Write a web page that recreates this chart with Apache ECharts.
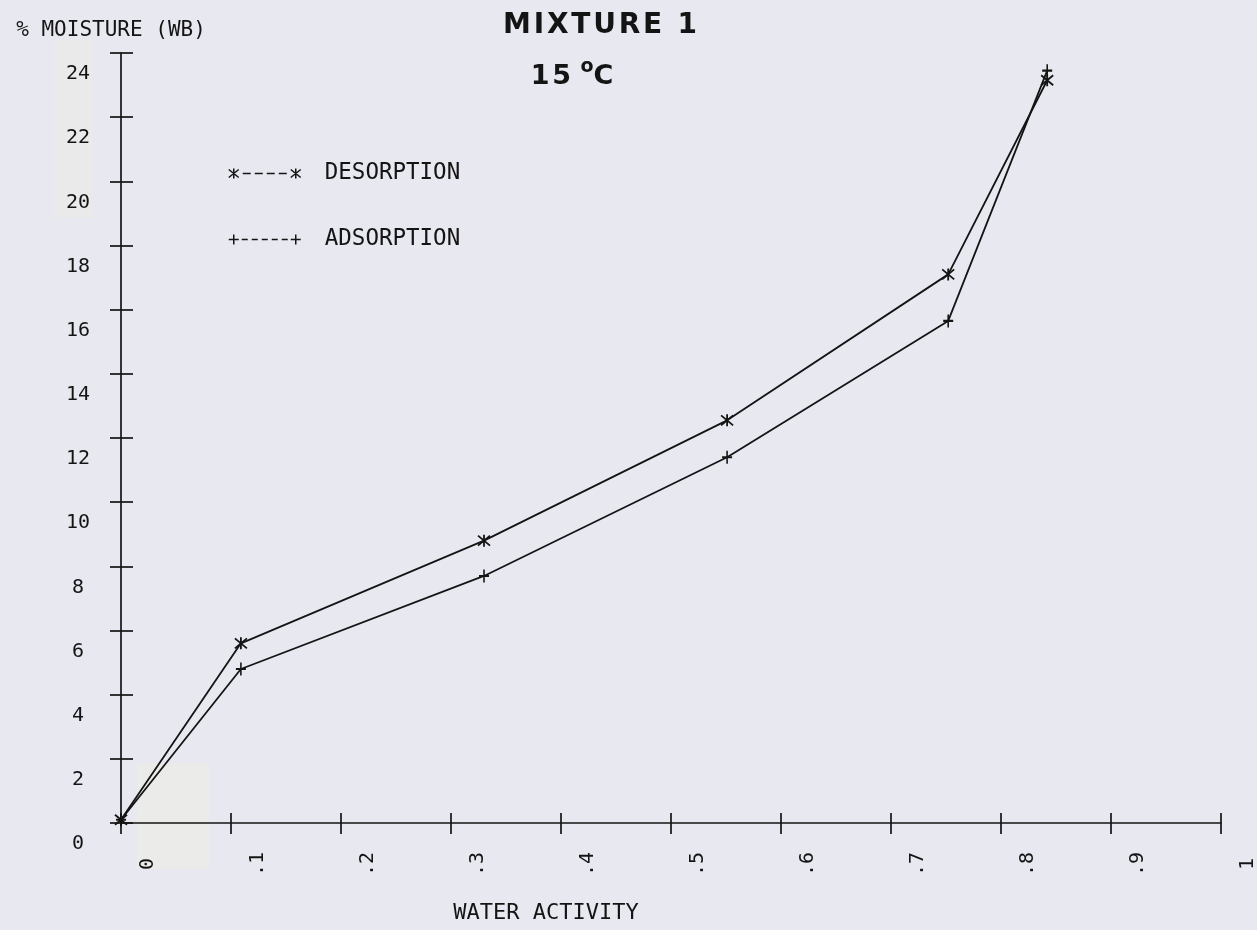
<!DOCTYPE html>
<html>
<head>
<meta charset="utf-8">
<title>MIXTURE 1 – 15 °C sorption isotherms</title>
<script src="https://cdn.jsdelivr.net/npm/echarts@6/dist/echarts.min.js"></script>
<style>
  html, body { margin: 0; padding: 0; background: #e8e8f1; }
  #chart { width: 1257px; height: 930px; }
</style>
</head>
<body>
<div id="chart"></div>
<script>
// Water activity of each measured point
const waterActivity = [0, 0.109, 0.330, 0.551, 0.752, 0.842];
// % moisture (wet basis)
const desorption = [0.1, 5.6, 8.8, 12.55, 17.1, 23.15];
const adsorption = [0.1, 4.8, 7.7, 11.4, 15.65, 23.45];

// Axis ranges and tick steps
const xMin = 0, xMax = 1, xStep = 0.1;
const yMin = 0, yMax = 24, yStep = 2;

const titleText = 'MIXTURE 1';
const tempText = '15';
const yName = '% MOISTURE (WB)';
const xName = 'WATER ACTIVITY';
const seriesNames = ['DESORPTION', 'ADSORPTION'];

const INK = '#141414';
const MONO = '"DejaVu Sans Mono", "Liberation Mono", monospace';
const SANS = '"DejaVu Sans", "Liberation Sans", sans-serif';

// Plotter-style markers, drawn as stroked paths
const starPath = 'path://M0 1 L12 11 M12 1 L0 11 M6 0 L6 12';
const plusPath = 'path://M5 0 L5 13 M0 6.5 L10 6.5';

// Legend keys: marker, dashes, marker
const starKey = 'path://M0 1 L10 9 M10 1 L0 9 M5 0 L5 10 ' +
  'M14 5 L22 5 M26 5 L34 5 M38 5 L46 5 M50 5 L58 5 ' +
  'M62 1 L72 9 M72 1 L62 9 M67 0 L67 10';
const plusKey = 'path://M5 0 L5 10 M0 5 L10 5 ' +
  'M13 5 L19 5 M23 5 L29 5 M33 5 L39 5 M43 5 L49 5 M53 5 L59 5 ' +
  'M67 0 L67 10 M62 5 L72 5';

const pairs = (xs, ys) => xs.map((x, i) => [x, ys[i]]);

// Plotter labels sit a little off their ticks: two blank lines push the text
// below (y axis) or beside (rotated x axis) the tick it belongs to.
const xLabel = v => {
  const n = Math.round(v * 10);
  const s = n === 0 ? '0' : n === 10 ? '1' : '.' + n;
  return '\n\n' + s;
};
const yLabel = v => '\n\n' + v;

// Hair spaces widen the title's letter spacing
const spaced = s => s.split('').join('\u200A');

const chart = echarts.init(document.getElementById('chart'), null, { renderer: 'canvas' });

const axisLineStyle = { color: INK, width: 1.7 };

chart.setOption({
  backgroundColor: '#e8e8f1',
  animation: false,
  title: [
    {
      text: spaced(titleText),
      left: 595,
      top: 5,
      textAlign: 'center',
      textStyle: { fontFamily: SANS, fontWeight: 'bold', fontSize: 28, lineHeight: 32, color: INK }
    },
    {
      text: '{n|' + spaced(tempText) + ' }{s|o}{n|C}',
      left: 567,
      top: 53,
      textAlign: 'center',
      textStyle: {
        rich: {
          n: { fontFamily: SANS, fontWeight: 'bold', fontSize: 27, lineHeight: 32, color: INK, verticalAlign: 'bottom' },
          s: { fontFamily: SANS, fontWeight: 'bold', fontSize: 19, lineHeight: 32, color: INK, verticalAlign: 'top' }
        }
      }
    }
  ],
  graphic: [
    { type: 'rect', z: -10, silent: true, shape: { x: 137, y: 763, width: 72, height: 106 }, style: { fill: '#ebebea' } },
    { type: 'rect', z: -10, silent: true, shape: { x: 54, y: 40, width: 38, height: 178 }, style: { fill: '#eaeaea' } }
  ],
  legend: {
    orient: 'vertical',
    left: 228,
    top: 162,
    padding: 0,
    itemWidth: 72,
    itemHeight: 10,
    itemGap: 43,
    selectedMode: false,
    itemStyle: { color: 'transparent', borderColor: INK, borderWidth: 1.5 },
    textStyle: { fontFamily: MONO, fontSize: 22.5, lineHeight: 22, color: INK, padding: [0, 0, 0, 19] },
    data: [
      { name: seriesNames[0], icon: starKey },
      { name: seriesNames[1], icon: plusKey }
    ]
  },
  grid: { left: 121, right: 36, top: 53, bottom: 107, containLabel: false, outerBoundsMode: 'none' },
  xAxis: [
    {
      type: 'value', min: xMin, max: xMax, interval: xStep, position: 'bottom',
      name: xName, nameLocation: 'middle', nameGap: 90, nameMoveOverlap: false,
      nameTextStyle: { fontFamily: MONO, fontSize: 22, color: INK, align: 'center', verticalAlign: 'middle', padding: [0, 250, 0, 0] },
      axisLine: { show: true, onZero: false, lineStyle: axisLineStyle },
      axisTick: { show: true, inside: false, length: 11, lineStyle: axisLineStyle },
      splitLine: { show: false },
      axisLabel: {
        show: true, interval: 0, rotate: 90, margin: 41, formatter: xLabel,
        align: 'center', verticalAlign: 'middle', lineHeight: 27,
        fontFamily: MONO, fontSize: 20, color: INK, hideOverlap: false
      }
    },
    {
      type: 'value', min: xMin, max: xMax, interval: xStep, position: 'bottom',
      axisLine: { show: false },
      axisTick: { show: true, inside: true, length: 10, lineStyle: axisLineStyle },
      axisLabel: { show: false },
      splitLine: { show: false }
    }
  ],
  yAxis: [
    {
      type: 'value', min: yMin, max: yMax, interval: yStep, position: 'left',
      name: yName, nameLocation: 'end', nameGap: 22, nameMoveOverlap: false,
      nameTextStyle: { fontFamily: MONO, fontSize: 21, color: INK, align: 'center', verticalAlign: 'middle', padding: [0, 20, 0, 0] },
      axisLine: { show: true, onZero: false, lineStyle: axisLineStyle },
      axisTick: { show: true, inside: false, length: 11, lineStyle: axisLineStyle },
      splitLine: { show: false },
      axisLabel: {
        show: true, interval: 0, margin: 43, align: 'center', verticalAlign: 'middle',
        formatter: yLabel, lineHeight: 21, fontFamily: MONO, fontSize: 20, color: INK, hideOverlap: false
      }
    },
    {
      type: 'value', min: yMin, max: yMax, interval: yStep, position: 'left',
      axisLine: { show: false },
      axisTick: { show: true, inside: true, length: 12, lineStyle: axisLineStyle },
      axisLabel: { show: false },
      splitLine: { show: false }
    }
  ],
  series: [
    {
      name: seriesNames[0], type: 'line', xAxisIndex: 0, yAxisIndex: 0,
      data: pairs(waterActivity, desorption),
      symbol: starPath, symbolSize: 12, showAllSymbol: true,
      lineStyle: { color: INK, width: 1.8 },
      itemStyle: { color: INK, borderColor: INK, borderWidth: 1.8 },
      emphasis: { disabled: true }
    },
    {
      name: seriesNames[1], type: 'line', xAxisIndex: 0, yAxisIndex: 0,
      data: pairs(waterActivity, adsorption),
      symbol: plusPath, symbolSize: [10, 13], showAllSymbol: true,
      lineStyle: { color: INK, width: 1.8 },
      itemStyle: { color: INK, borderColor: INK, borderWidth: 1.8 },
      emphasis: { disabled: true }
    }
  ]
});
</script>
</body>
</html>
